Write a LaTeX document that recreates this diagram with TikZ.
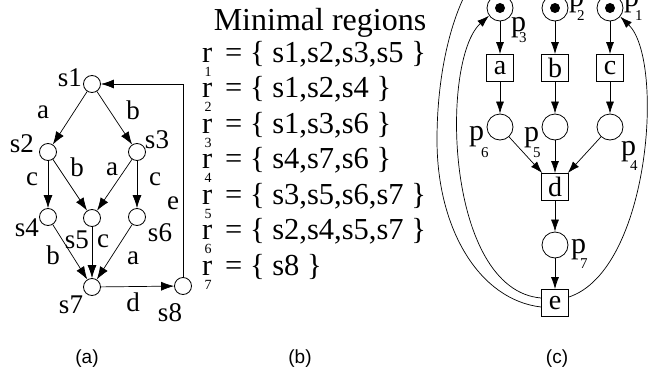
\documentclass[tikz,border=0pt]{standalone}
\usepackage{fontspec}
\setmainfont{Liberation Serif}
\newfontfamily\capfont{Liberation Sans}
\usetikzlibrary{arrows.meta}
\begin{document}
\begin{tikzpicture}[x=1pt,y=-1pt,
 stnode/.style={circle,draw,line width=0.8pt,minimum size=17pt,inner sep=0pt},
 place/.style={circle,draw,line width=0.8pt,minimum size=26pt,inner sep=0pt},
 trans/.style={rectangle,draw,line width=0.8pt,minimum width=27pt,minimum height=27pt,inner sep=0pt,font=\fontsize{28}{28}\selectfont},
 tok/.style={circle,fill,minimum size=10pt,inner sep=0pt},
 arr/.style={-{Latex[length=13pt,width=9pt]},line width=0.7pt},
 parr/.style={-{Latex[length=12pt,width=8pt]},line width=0.7pt},
 lab/.style={inner sep=0pt,font=\fontsize{27}{27}\selectfont},
 reg/.style={inner sep=0pt,anchor=base west,font=\fontsize{30.5}{30}\selectfont},
 rsub/.style={inner sep=0pt,anchor=base,font=\fontsize{14}{14}\selectfont},
 pp/.style={inner sep=0pt,anchor=base west,font=\fontsize{30}{30}\selectfont},
 ps/.style={inner sep=0pt,anchor=base west,font=\fontsize{15}{15}\selectfont},
 captext/.style={inner sep=0pt,font=\capfont\fontsize{19}{19}\selectfont}]
\useasboundingbox (0,0) rectangle (651,375);

% ---------- panel (a)
\node[stnode] (s1) at (92,84) {};
\node[stnode] (s2) at (48,152) {};
\node[stnode] (s3) at (137,152) {};
\node[stnode] (s4) at (48,217) {};
\node[stnode] (s5) at (92,218) {};
\node[stnode] (s6) at (137,217) {};
\node[stnode] (s7) at (92,287) {};
\node[stnode] (s8) at (183,286) {};
\draw[arr] (s1) -- (s2);
\draw[arr] (s1) -- (s3);
\draw[arr] (s2) -- (s4);
\draw[arr] (s2) -- (s5);
\draw[arr] (s3) -- (s5);
\draw[arr] (s3) -- (s6);
\draw[arr] (s4) -- (s7);
\draw[arr] (s5) -- (s7);
\draw[arr] (s6) -- (s7);
\draw[arr] (s7) -- (s8);
\draw[arr] (s8) |- (s1);

\node[lab] (ls1) at (70,78) {s1};
\node[lab] (ls2) at (22,144) {s2};
\node[lab] (ls3) at (157,140) {s3};
\node[lab] (ls4) at (27,228) {s4};
\node[lab] (ls5) at (77,240) {s5};
\node[lab] (ls6) at (160,233) {s6};
\node[lab] (ls7) at (71,305) {s7};
\node[lab] (ls8) at (170,313) {s8};
\node[lab] (ea1) at (43,112) {a};
\node[lab] (eb1) at (133,110) {b};
\node[lab] (ec1) at (32,179) {c};
\node[lab] (eb2) at (77,167) {b};
\node[lab] (ea2) at (112,169) {a};
\node[lab] (ec2) at (155,179) {c};
\node[lab] (ee) at (173,203) {e};
\node[lab] (ec3) at (103,241) {c};
\node[lab] (eb3) at (53,255) {b};
\node[lab] (ea3) at (133,258) {a};
\node[lab] (ed) at (133,302) {d};

% ---------- panel (b)
\node[inner sep=0pt,anchor=base,font=\fontsize{32}{32}\selectfont] (title) at (320,30) {Minimal regions};
\node[reg] (r1) at (202,62) {r};
\node[reg] (q1) at (225,62) {= \{ s1,s2,s3,s5 \}};
\node[rsub] (n1) at (208,76) {1};
\node[reg] (r2) at (202,97.5) {r};
\node[reg] (q2) at (225,97.5) {= \{ s1,s2,s4 \}};
\node[rsub] (n2) at (208,111.5) {2};
\node[reg] (r3) at (202,133) {r};
\node[reg] (q3) at (225,133) {= \{ s1,s3,s6 \}};
\node[rsub] (n3) at (208,147) {3};
\node[reg] (r4) at (202,168.5) {r};
\node[reg] (q4) at (225,168.5) {= \{ s4,s7,s6 \}};
\node[rsub] (n4) at (208,182.5) {4};
\node[reg] (r5) at (202,204) {r};
\node[reg] (q5) at (225,204) {= \{ s3,s5,s6,s7 \}};
\node[rsub] (n5) at (208,218) {5};
\node[reg] (r6) at (202,239.5) {r};
\node[reg] (q6) at (225,239.5) {= \{ s2,s4,s5,s7 \}};
\node[rsub] (n6) at (208,253.5) {6};
\node[reg] (r7) at (202,275) {r};
\node[reg] (q7) at (225,275) {= \{ s8 \}};
\node[rsub] (n7) at (208,289) {7};

% ---------- panel (c)
\node[place] (p3) at (500,8) {};
\node[place] (p2) at (555,8) {};
\node[place] (p1) at (610,8) {};
\node[tok] (k3) at (500,8) {};
\node[tok] (k2) at (555,8) {};
\node[tok] (k1) at (610,8) {};
\node[trans] (ta) at (500,68) {a};
\node[trans] (tb) at (555,68) {b};
\node[trans] (tc) at (610,68) {c};
\node[place] (p6) at (500,127) {};
\node[place] (p5) at (555,127) {};
\node[place] (p4) at (610,127) {};
\node[trans] (td) at (555,187) {d};
\node[place] (p7) at (555,245) {};
\node[trans] (te) at (555,303) {e};

\draw[parr] (p3) -- (ta);
\draw[parr] (p2) -- (tb);
\draw[parr] (p1) -- (tc);
\draw[parr] (ta) -- (p6);
\draw[parr] (tb) -- (p5);
\draw[parr] (tc) -- (p4);
\draw[parr] (p6) -- (td);
\draw[parr] (p5) -- (td);
\draw[parr] (p4) -- (td);
\draw[parr] (td) -- (p7);
\draw[parr] (p7) -- (te);
\draw[parr] ([yshift=5pt]te.west) .. controls (445,290) and (440,60) .. (p3.215);
\draw[parr] ([yshift=-4pt]te.west) .. controls (480,300) and (437,230) .. (437,140)
   .. controls (437,0) and (500,-100) .. (p2.north);
\draw[parr] ([yshift=6pt]te.east) .. controls (650,270) and (665,60) .. (p1.-40);

\node[pp] (lp3) at (511,31) {p};
\node[ps] (lp3s) at (519,42) {3};
\node[pp] (lp2) at (569,6) {p};
\node[ps] (lp2s) at (577,20) {2};
\node[pp] (lp1) at (624,6) {p};
\node[ps] (lp1s) at (635,20) {1};
\node[pp] (lp6) at (469,140) {p};
\node[ps] (lp6s) at (481,157) {6};
\node[pp] (lp5) at (524,141) {p};
\node[ps] (lp5s) at (533,157) {5};
\node[pp] (lp4) at (621,155) {p};
\node[ps] (lp4s) at (630,170) {4};
\node[pp] (lp7) at (571,253) {p};
\node[ps] (lp7s) at (580,268) {7};

% ---------- captions
\node[captext] (ca) at (87,359) {(a)};
\node[captext] (cb) at (300,359) {(b)};
\node[captext] (cc) at (557,359) {(c)};
\end{tikzpicture}
\end{document}
